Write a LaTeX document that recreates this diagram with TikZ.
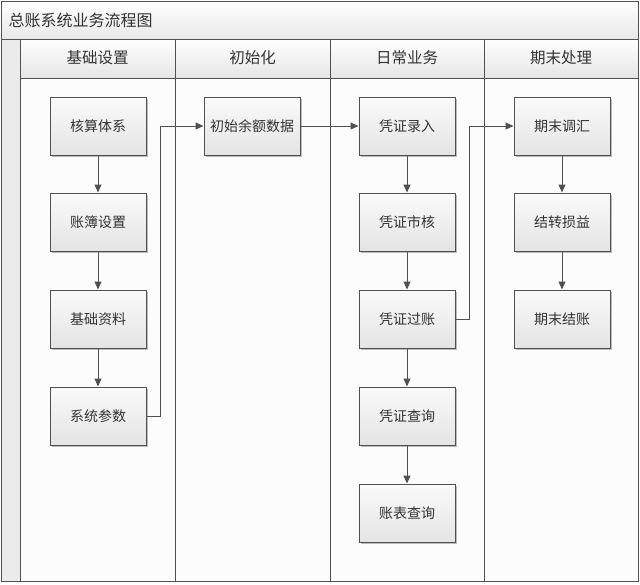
\documentclass[tikz,border=0pt]{standalone}
\usepackage{fontspec}
\setmainfont{Noto Sans CJK SC}
\usetikzlibrary{shadows,arrows.meta}
\definecolor{lineC}{HTML}{505050}
\definecolor{boxTop}{HTML}{FAFAFA}
\definecolor{boxBot}{HTML}{E4E4E4}
\tikzset{
  procbox/.style={draw=lineC, line width=1pt, minimum width=96pt, minimum height=58pt,
    top color=boxTop, bottom color=boxBot, inner sep=0pt,
    font=\fontsize{14pt}{16pt}\selectfont, text=black!80,
    drop shadow={shadow xshift=1.5pt, shadow yshift=-1.5pt, opacity=0.25, fill=black}},
  flow/.style={draw=lineC, line width=1pt, -{Triangle[length=8pt,width=7pt]}},
  lane/.style={draw=lineC, line width=1pt},
  hdr/.style={font=\fontsize{15.5pt}{18pt}\selectfont, text=black!80}
}
\begin{document}
\begin{tikzpicture}[x=1pt,y=-1pt]
\useasboundingbox (0,0) rectangle (640,584);
\fill[white] (0,0) rectangle (640,584);
% title bar
\shade[top color=white, bottom color=black!9] (1,1) rectangle (638,39);
\node[anchor=west, font=\fontsize{16pt}{18pt}\selectfont, text=black!80] (title) at (5,20) {总账系统业务流程图};
% left strip
\fill[black!8] (1,39) rectangle (20,581);
% lane headers
\foreach \xa/\xb in {20/175,175/330,330/484,484/638}{
  \shade[top color=white, bottom color=black!10] (\xa,39) rectangle (\xb,78);
}
\fill[black!1] (20,78) rectangle (638,581);
\node[hdr] (h1) at (97.5,58) {基础设置};
\node[hdr] (h2) at (252.5,58) {初始化};
\node[hdr] (h3) at (407,58) {日常业务};
\node[hdr] (h4) at (561,58) {期末处理};
% lines
\draw[lane] (1,1) rectangle (638,581);
\draw[lane] (1,39) -- (638,39);
\draw[lane] (20,78) -- (638,78);
\draw[lane] (20,39) -- (20,581);
\foreach \xx in {175,330,484}{ \draw[lane] (\xx,39) -- (\xx,581); }
% boxes
\node[procbox] (a1) at (98,126) {核算体系};
\node[procbox] (a2) at (98,222) {账簿设置};
\node[procbox] (a3) at (98,319) {基础资料};
\node[procbox] (a4) at (98,416) {系统参数};
\node[procbox] (b1) at (252,126) {初始余额数据};
\node[procbox] (c1) at (407,126) {凭证录入};
\node[procbox] (c2) at (407,222) {凭证市核};
\node[procbox] (c3) at (407,319) {凭证过账};
\node[procbox] (c4) at (407,416) {凭证查询};
\node[procbox] (c5) at (407,513) {账表查询};
\node[procbox] (d1) at (562,126) {期末调汇};
\node[procbox] (d2) at (562,222) {结转损益};
\node[procbox] (d3) at (562,319) {期末结账};
% connectors
\draw[flow] (a1) -- (a2);
\draw[flow] (a2) -- (a3);
\draw[flow] (a3) -- (a4);
\draw[flow] (a4.east) -- ++(14,0) |- (b1.west);
\draw[flow] (b1) -- (c1);
\draw[flow] (c1) -- (c2);
\draw[flow] (c2) -- (c3);
\draw[flow] (c3) -- (c4);
\draw[flow] (c4) -- (c5);
\draw[flow] (c3.east) -- ++(14,0) |- (d1.west);
\draw[flow] (d1) -- (d2);
\draw[flow] (d2) -- (d3);
\end{tikzpicture}
\end{document}
